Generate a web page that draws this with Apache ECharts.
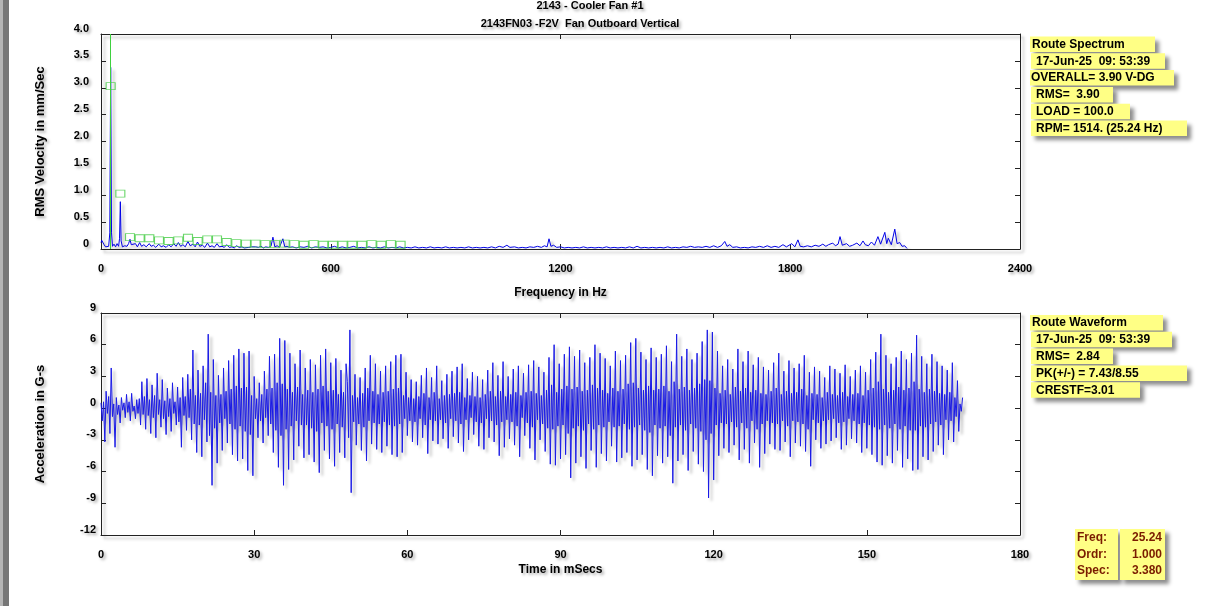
<!DOCTYPE html>
<html>
<head>
<meta charset="utf-8">
<title>2143 - Cooler Fan #1</title>
<script src="https://cdn.jsdelivr.net/npm/echarts/dist/echarts.min.js"></script>
<style>
  html, body { margin: 0; padding: 0; background: #fff; }
  #main { width: 1216px; height: 606px; }
</style>
</head>
<body>
<div id="main"></div>
<script>
// spectrum, [Hz, mm/s]
let specLow = [
  [0, 0.12], [2, 0.16], [5, 0.19], [8, 0.08], [12, 0.04], [16, 0.03], [20, 0.05], [23, 0.3],
  [25.24, 3.38], [27.5, 0.3], [30, 0.05], [34, 0.09], [38, 0.04], [42, 0.1], [46, 0.05], [48.5, 0.2],
  [50.5, 0.88], [52.5, 0.15], [56, 0.04], [62, 0.06], [68, 0.05], [72, 0.1], [75.7, 0.18], [79, 0.08],
  [84, 0.05], [90, 0.1], [95, 0.04], [101, 0.12], [106, 0.05], [112, 0.08], [118, 0.04], [126, 0.1],
  [131, 0.05], [137, 0.07], [143, 0.03], [151, 0.09], [157, 0.04], [163, 0.06], [170, 0.03], [177, 0.08],
  [183, 0.04], [190, 0.1], [196, 0.05], [202, 0.12], [208, 0.05], [214, 0.08], [220, 0.04], [227, 0.14],
  [233, 0.06], [240, 0.09], [246, 0.04], [252, 0.13], [258, 0.05], [265, 0.07], [271, 0.03], [278, 0.11],
  [284, 0.04], [290, 0.06], [296, 0.03], [303, 0.1], [309, 0.04], [316, 0.05], [322, 0.03], [328, 0.08],
  [335, 0.03], [342, 0.04], [348, 0.02], [354, 0.06], [361, 0.03], [368, 0.04], [374, 0.02], [379, 0.05],
  [386, 0.03], [393, 0.04], [398, 0.02], [404, 0.04], [411, 0.03], [418, 0.05], [424, 0.02], [430, 0.04],
  [437, 0.03], [444, 0.05], [449, 0.22], [454, 0.04], [460, 0.06], [466, 0.03], [470, 0.05], [475, 0.19],
  [480, 0.04], [486, 0.05], [492, 0.03], [500, 0.04], [510, 0.02], [520, 0.04], [530, 0.03], [540, 0.05],
  [550, 0.02], [560, 0.04], [570, 0.03], [580, 0.04], [590, 0.02], [600, 0.03], [610, 0.05], [620, 0.02],
  [630, 0.04], [640, 0.02], [650, 0.03], [660, 0.05], [670, 0.02], [680, 0.03], [690, 0.02], [700, 0.04],
  [710, 0.02], [720, 0.03], [730, 0.02], [740, 0.04], [750, 0.02], [760, 0.03], [770, 0.02], [780, 0.04],
  [790, 0.02], [800, 0.03],
];
let specHigh = [
  [810, 0.02], [820, 0.04], [830, 0.02], [840, 0.03], [850, 0.02], [860, 0.04], [870, 0.02], [880, 0.03],
  [890, 0.02], [900, 0.04], [910, 0.02], [920, 0.03], [930, 0.02], [940, 0.03], [950, 0.02], [960, 0.04],
  [970, 0.02], [980, 0.03], [990, 0.02], [1000, 0.03], [1010, 0.02], [1020, 0.04], [1030, 0.02], [1040, 0.05],
  [1050, 0.03], [1060, 0.07], [1068, 0.03], [1080, 0.04], [1090, 0.02], [1100, 0.03], [1110, 0.02], [1120, 0.04],
  [1130, 0.03], [1140, 0.05], [1150, 0.03], [1158, 0.06], [1165, 0.04], [1170, 0.19], [1175, 0.05], [1182, 0.07],
  [1190, 0.03], [1200, 0.04], [1210, 0.02], [1220, 0.03], [1230, 0.02], [1240, 0.03], [1250, 0.02], [1260, 0.04],
  [1270, 0.02], [1280, 0.03], [1290, 0.02], [1300, 0.03], [1310, 0.02], [1320, 0.04], [1330, 0.02], [1340, 0.03],
  [1350, 0.02], [1360, 0.03], [1370, 0.02], [1380, 0.04], [1390, 0.02], [1400, 0.05], [1410, 0.02], [1420, 0.03],
  [1430, 0.02], [1440, 0.03], [1450, 0.02], [1460, 0.03], [1470, 0.02], [1480, 0.04], [1490, 0.02], [1500, 0.03],
  [1510, 0.02], [1520, 0.04], [1530, 0.03], [1540, 0.05], [1550, 0.03], [1560, 0.04], [1570, 0.03], [1580, 0.05],
  [1590, 0.03], [1600, 0.06], [1610, 0.03], [1620, 0.06], [1629, 0.14], [1635, 0.05], [1642, 0.08], [1650, 0.03],
  [1660, 0.04], [1670, 0.02], [1680, 0.03], [1690, 0.02], [1700, 0.04], [1710, 0.03], [1720, 0.05], [1730, 0.03],
  [1740, 0.06], [1750, 0.03], [1760, 0.05], [1770, 0.03], [1781, 0.08], [1790, 0.04], [1804, 0.1], [1812, 0.04],
  [1820, 0.17], [1826, 0.05], [1835, 0.04], [1845, 0.06], [1855, 0.04], [1865, 0.07], [1875, 0.05], [1885, 0.09],
  [1893, 0.05], [1900, 0.08], [1911, 0.11], [1918, 0.06], [1925, 0.09], [1930, 0.23], [1936, 0.07], [1947, 0.1],
  [1955, 0.05], [1963, 0.07], [1974, 0.11], [1982, 0.06], [1990, 0.15], [1996, 0.08], [2004, 0.06], [2012, 0.13],
  [2020, 0.07], [2029, 0.23], [2036, 0.09], [2041, 0.12], [2047, 0.31], [2052, 0.1], [2056, 0.2], [2064, 0.08],
  [2073, 0.37], [2079, 0.1], [2086, 0.12], [2092, 0.05], [2099, 0.06], [2105, 0.01],
];

// order markers (1x .. 31x of 25.24 Hz)
let markerFreq = [
  25.2, 50.5, 75.7, 101.0, 126.2, 151.4, 176.7, 201.9, 227.2, 252.4, 277.6, 302.9, 328.1, 353.4, 378.6, 403.8,
  429.1, 454.3, 479.6, 504.8, 530.0, 555.3, 580.5, 605.8, 631.0, 656.2, 681.5, 706.7, 732.0, 757.2, 782.4,
];
let markerAmp = [
  3.03, 1.03, 0.22, 0.2, 0.2, 0.16, 0.15, 0.16, 0.21, 0.15, 0.18, 0.18, 0.13, 0.11, 0.1, 0.1,
  0.09, 0.09, 0.1, 0.09, 0.08, 0.09, 0.08, 0.08, 0.08, 0.08, 0.08, 0.09, 0.08, 0.09, 0.08,
];
let cursorFreq = 25.24;

// waveform, G-s, samples every 0.25 ms
// wavePeaks = the big swings, waveInner = the smaller samples between them
let waveStep = 0.25;
let wavePeaks = [
  0.5, -3.2, 1.6, -2.4, 3.8, -3.7, 1.0, -1.4, 1.0, -0.9, 1.3, -1.2, 1.4, -1.0, 0.8, -1.6, 2.5, -2.0, 2.8, -2.4,
  2.2, -2.8, 3.3, -1.8, 2.7, -2.5, 1.9, -2.2, 2.4, -1.6, 2.0, -3.7, 2.9, -2.1, 3.2, -3.0, 5.5, -4.2, 3.6, -4.6,
  4.0, -3.2, 7.0, -7.3, 4.6, -5.2, 3.1, -4.0, 3.8, -3.3, 4.5, -4.4, 5.0, -5.0, 5.6, -4.8, 5.2, -5.9, 5.4, -6.4,
  3.0, -2.8, 2.4, -3.3, 3.5, -2.6, 4.9, -4.2, 5.1, -5.6, 6.6, -7.3, 6.4, -5.8, 5.2, -4.9, 4.2, -3.6, 5.5, -4.7,
  3.8, -4.4, 4.6, -5.1, 4.1, -6.1, 5.0, -4.0, 5.6, -4.8, 4.3, -5.5, 4.7, -4.2, 3.6, -4.7, 4.2, 7.4, -8.0, 3.2,
  -3.5, 2.9, -4.0, 3.8, -5.0, 5.0, -3.4, 4.2, -3.9, 3.5, -4.2, 4.0, -3.6, 4.4, -4.4, 5.0, -4.6, 5.1, -4.2, 3.4,
  -2.6, 2.7, -3.2, 2.5, -3.5, 3.1, -2.8, 3.8, -4.3, 2.9, -3.1, 4.0, -3.4, 2.6, -2.9, 3.2, -3.8, 3.5, -2.7, 3.9,
  -3.3, 4.2, -4.1, 2.8, -3.0, 3.4, -2.5, 3.0, -3.6, 2.7, -3.9, 3.6, -2.8, 4.3, -3.2, 3.1, -4.5, 4.4, -3.7, 3.0,
  -2.9, 3.7, -3.5, 4.0, -4.6, 3.3, -2.6, 4.1, -3.8, 4.5, -4.9, 3.9, -3.0, 3.4, -4.1, 4.8, -5.3, 6.0, -5.4, 4.2,
  -4.8, 5.1, -4.4, 5.8, -6.6, 4.9, -5.2, 5.5, -4.6, 4.3, -5.7, 4.8, -4.0, 6.0, -5.6, 5.2, -4.3, 4.7, -5.0, 4.0,
  -3.6, 5.4, -5.1, 4.5, -4.7, 5.0, -4.2, 6.2, -5.5, 6.6, -4.9, 5.3, -4.4, 4.6, -5.8, 5.7, -6.4, 4.8, -4.5, 5.1,
  -5.2, 5.9, -4.6, 4.4, -7.1, 7.0, -5.0, 4.9, -4.4, 5.6, -5.9, 4.6, -4.1, 5.2, -5.3, 6.3, -6.0, 7.4, -8.5, 7.2,
  -6.8, 5.4, -4.5, 4.0, -3.8, 4.6, -4.2, 3.7, -3.5, 5.6, -4.9, 4.4, -3.9, 5.4, -5.2, 4.1, -3.3, 4.8, -5.6, 3.9,
  -4.3, 3.6, -3.4, 4.3, -3.9, 5.2, -4.0, 3.5, -3.2, 4.5, -4.6, 3.8, -3.3, 4.2, -3.6, 5.0, -4.1, 3.4, -5.5, 3.9,
  -3.0, 3.5, -3.8, 2.9, -3.4, 4.0, -3.1, 3.7, -2.8, 3.3, -3.9, 4.1, -3.5, 3.0, -2.9, 3.6, -3.3, 4.0, -4.2, 3.4,
  -3.8, 4.6, -4.4, 5.3, -5.1, 7.0, -5.4, 5.0, -4.5, 4.2, -5.2, 4.8, -4.0, 5.4, -5.6, 4.6, -4.8, 5.2, -5.9, 6.9,
  -5.8, 4.9, -4.6, 4.2, -4.9, 5.1, -4.1, 4.4, -3.5, 4.0, -4.4, 3.6, -3.0, 4.3, -3.2, 2.6, -2.2, 1.0,
];
let waveInner = [
  -1.2, 0.6, -0.5, 1.1, -0.8, 0.4, -0.6, 0.3, -0.2, 0.5, -0.4, 0.6, -0.3, 0.2, -0.5, 0.9, -0.6, 1.1, -0.7, 0.8,
  -0.9, 1.2, -0.6, 0.8, -1.0, 0.7, -0.8, 0.9, -0.5, 0.6, -1.3, 1.0, -0.7, 1.1, -0.9, 1.8, -1.5, 1.2, -1.6, 1.4,
  -1.1, 2.4, -2.6, 1.5, -1.9, 1.2, -1.4, 1.3, -1.0, 1.6, -1.5, 1.8, -2.0, 2.1, -1.7, 1.9, -2.2, 2.0, -2.5, 1.2,
  -1.0, 0.9, -1.2, 1.3, -0.9, 1.8, -1.5, 1.9, -2.1, 2.4, -2.6, 2.3, -2.0, 1.8, -1.7, 1.5, -1.2, 2.0, -1.6, 1.3,
  -1.6, 1.7, -1.9, 1.5, -2.2, 1.8, -1.4, 2.1, -1.7, 1.6, -2.0, 1.7, -1.5, 1.3, -1.8, 1.5, 2.5, -2.8, 1.2, -1.3,
  1.0, -1.5, 1.4, -1.8, 1.9, -1.2, 1.6, -1.4, 1.3, -1.5, 1.5, -1.3, 1.6, -1.6, 1.8, -1.7, 1.9, -1.5, 1.2, -1.0,
  1.0, -1.2, 0.9, -1.3, 1.1, -1.0, 1.4, -1.6, 1.0, -1.1, 1.5, -1.2, 0.9, -1.1, 1.2, -1.4, 1.3, -1.0, 1.4, -1.2,
  1.5, -1.5, 1.0, -1.1, 1.2, -0.9, 1.1, -1.3, 1.0, -1.4, 1.3, -1.0, 1.6, -1.2, 1.1, -1.6, 1.6, -1.3, 1.1, -1.1,
  1.3, -1.3, 1.5, -1.7, 1.2, -0.9, 1.5, -1.4, 1.6, -1.8, 1.4, -1.1, 1.2, -1.5, 1.7, -1.9, 2.2, -2.0, 1.5, -1.7,
  1.8, -1.6, 2.1, -2.4, 1.8, -1.9, 2.0, -1.7, 1.6, -2.1, 1.7, -1.5, 2.2, -2.0, 1.9, -1.6, 1.7, -1.8, 1.4, -1.3,
  1.9, -1.8, 1.6, -1.7, 1.8, -1.5, 2.3, -2.0, 2.4, -1.8, 1.9, -1.6, 1.7, -2.1, 2.1, -2.3, 1.7, -1.6, 1.8, -1.9,
  2.1, -1.7, 1.6, -2.6, 2.5, -1.8, 1.8, -1.6, 2.0, -2.1, 1.7, -1.5, 1.9, -1.9, 2.3, -2.2, 2.7, -3.0, 2.6, -2.4,
  1.9, -1.6, 1.4, -1.4, 1.7, -1.5, 1.3, -1.3, 2.0, -1.8, 1.6, -1.4, 1.9, -1.9, 1.5, -1.2, 1.7, -2.0, 1.4, -1.5,
  1.3, -1.2, 1.6, -1.4, 1.9, -1.5, 1.3, -1.2, 1.6, -1.7, 1.4, -1.2, 1.5, -1.3, 1.8, -1.5, 1.2, -2.0, 1.4, -1.1,
  1.3, -1.4, 1.0, -1.2, 1.5, -1.1, 1.3, -1.0, 1.2, -1.4, 1.5, -1.3, 1.1, -1.0, 1.3, -1.2, 1.4, -1.5, 1.2, -1.4,
  1.7, -1.6, 1.9, -1.8, 2.5, -2.0, 1.8, -1.6, 1.5, -1.9, 1.7, -1.5, 2.0, -2.0, 1.7, -1.7, 1.9, -2.1, 2.5, -2.1,
  1.8, -1.7, 1.5, -1.8, 1.8, -1.5, 1.6, -1.3, 1.4, -1.6, 1.3, -1.1, 1.5, -1.2, 1.0, -0.8, 0.4, -0.3,
];

// texts
let titleLines = ["2143 - Cooler Fan #1", "2143FN03 -F2V  Fan Outboard Vertical"];
let specInfo = ["Route Spectrum", "17-Jun-25  09: 53:39", "OVERALL= 3.90 V-DG", "RMS=  3.90", "LOAD = 100.0", "RPM= 1514. (25.24 Hz)"];
let waveInfo = ["Route Waveform", "17-Jun-25  09: 53:39", "RMS=  2.84", "PK(+/-) = 7.43/8.55", "CRESTF=3.01"];
let cursorNames = ["Freq:", "Ordr:", "Spec:"];
let cursorValues = ["25.24", "1.000", "3.380"];

// sample order inside each 1 ms: peak, inner, inner, peak
let waveSamples = [];
for (let j = 0; j * 2 < wavePeaks.length; j++) {
  waveSamples.push(wavePeaks[2 * j], waveInner[2 * j], waveInner[2 * j + 1]);
  if (2 * j + 1 < wavePeaks.length) waveSamples.push(wavePeaks[2 * j + 1]);
}

let myChart = document.getElementById("main");
let initChart = echarts.init(myChart, null, { renderer: "canvas" });

const FONT = '"Liberation Sans", Arial, sans-serif';
const shadowTxt = {
  textShadowColor: "rgba(0,0,0,0.35)",
  textShadowBlur: 3,
  textShadowOffsetX: 2,
  textShadowOffsetY: 2,
};
const lineShadow = {
  shadowColor: "rgba(0,0,0,0.3)",
  shadowBlur: 3,
  shadowOffsetX: 3,
  shadowOffsetY: 3,
};

let frameAxis = (extra) =>
  Object.assign(
    {
      axisLine: { show: true, onZero: false, lineStyle: Object.assign({ color: "#222", width: 1 }, lineShadow) },
      axisTick: { show: true, inside: true, length: 5, lineStyle: { color: "#222" } },
      splitLine: { show: false },
    },
    extra
  );

let axisLabelX = {
  color: "#000",
  fontFamily: FONT,
  fontWeight: "bold",
  fontSize: 11,
  margin: 14,
  formatter: (v) => String(v),
  ...shadowTxt,
};
let axisLabelY = (margin, fmt) => ({
  color: "#000",
  fontFamily: FONT,
  fontWeight: "bold",
  fontSize: 11,
  margin: margin,
  verticalAlign: "bottom",
  formatter: fmt,
  ...shadowTxt,
});
let nameStyle = {
  color: "#000",
  fontFamily: FONT,
  fontWeight: "bold",
  fontSize: 12,
  ...shadowTxt,
};

// frame on the left and the yellow labels
let graphics = [
  { type: "rect", shape: { x: 0, y: 0, width: 9, height: 606 }, style: { fill: "#777" }, silent: true },
  { type: "rect", shape: { x: 0, y: 0, width: 3, height: 606 }, style: { fill: "#b5b5b5" }, silent: true },
];
titleLines.forEach((t, i) => {
  graphics.push({
    type: "text",
    x: i === 0 ? 590 : 580,
    y: i === 0 ? 6 : 24,
    style: Object.assign(
      { text: t, font: "bold 11px " + FONT, fill: "#000", textAlign: "center", align: "center", textVerticalAlign: "middle", verticalAlign: "middle" },
      shadowTxt
    ),
  });
});

let boxStyle = {
  fill: "#ffff85",
  shadowColor: "rgba(0,0,0,0.45)",
  shadowBlur: 4,
  shadowOffsetX: 4,
  shadowOffsetY: 4,
};
let addInfo = (lines, top, boxes, textX) => {
  lines.forEach((t, i) => {
    let y = top + i * 16.8;
    graphics.push({
      type: "rect",
      shape: { x: boxes[i][0], y: y, width: boxes[i][1], height: 15.5 },
      style: boxStyle,
      silent: true,
    });
  });
  lines.forEach((t, i) => {
    let y = top + i * 16.8;
    graphics.push({
      type: "text",
      x: textX[i],
      y: y + 8,
      style: { text: t, font: "bold 12px " + FONT, fill: "#000", textVerticalAlign: "middle", verticalAlign: "middle" },
    });
  });
};
addInfo(
  specInfo,
  36.5,
  [[1030, 125], [1031, 134], [1030, 144], [1031, 82], [1031, 99], [1031, 156]],
  [1032, 1036, 1031, 1036, 1036, 1036]
);
addInfo(
  waveInfo,
  315,
  [[1030, 133], [1031, 141], [1031, 82], [1031, 156], [1031, 109]],
  [1032, 1036, 1036, 1036, 1036]
);

graphics.push({ type: "rect", shape: { x: 1075, y: 529, width: 43, height: 51 }, style: boxStyle, silent: true });
graphics.push({ type: "rect", shape: { x: 1120, y: 529, width: 45, height: 51 }, style: boxStyle, silent: true });
cursorNames.forEach((t, i) => {
  graphics.push({
    type: "text",
    x: 1077,
    y: 538 + i * 16.5,
    style: { text: t, font: "bold 12px " + FONT, fill: "#7a1c00", textVerticalAlign: "middle", verticalAlign: "middle" },
  });
  graphics.push({
    type: "text",
    x: 1162,
    y: 538 + i * 16.5,
    style: {
      text: cursorValues[i],
      font: "bold 12px " + FONT,
      fill: "#7a1c00",
      textAlign: "right",
      align: "right",
      textVerticalAlign: "middle",
      verticalAlign: "middle",
    },
  });
});

let option = {
  backgroundColor: "#fff",
  animation: false,
  grid: [
    { left: 101, top: 34, right: 196, height: 215 },
    { left: 101, top: 313, right: 196, height: 222 },
  ],
  xAxis: [
    frameAxis({
      type: "value", gridIndex: 0, min: 0, max: 2400, interval: 600,
      axisLabel: axisLabelX,
      name: "Frequency in Hz", nameLocation: "middle", nameGap: 38, nameTextStyle: nameStyle,
    }),
    frameAxis({ type: "value", gridIndex: 0, position: "top", min: 0, max: 2400, interval: 600, axisLabel: { show: false } }),
    frameAxis({
      type: "value", gridIndex: 1, min: 0, max: 180, interval: 30,
      axisLabel: axisLabelX,
      name: "Time in mSecs", nameLocation: "middle", nameGap: 29, nameTextStyle: nameStyle,
    }),
    frameAxis({ type: "value", gridIndex: 1, position: "top", min: 0, max: 180, interval: 30, axisLabel: { show: false } }),
  ],
  yAxis: [
    frameAxis({
      type: "value", gridIndex: 0, min: 0, max: 4, interval: 0.5,
      axisLabel: axisLabelY(12, (v) => (v === 0 ? "0" : v.toFixed(1))),
      name: "RMS Velocity in mm/Sec", nameLocation: "middle", nameGap: 54,
      nameTextStyle: Object.assign({}, nameStyle, { fontSize: 13 }),
    }),
    frameAxis({ type: "value", gridIndex: 0, position: "right", min: 0, max: 4, interval: 0.5, axisLabel: { show: false } }),
    frameAxis({
      type: "value", gridIndex: 1, min: -12, max: 9, interval: 3,
      axisLabel: axisLabelY(5, (v) => String(v)),
      name: "Acceleration in G-s", nameLocation: "middle", nameGap: 54,
      nameTextStyle: Object.assign({}, nameStyle, { fontSize: 13 }),
    }),
    frameAxis({ type: "value", gridIndex: 1, position: "right", min: -12, max: 9, interval: 3, axisLabel: { show: false } }),
  ],
  series: [
    {
      name: "spectrum",
      type: "line",
      xAxisIndex: 0,
      yAxisIndex: 0,
      data: specLow.concat(specHigh),
      showSymbol: false,
      symbol: "none",
      lineStyle: Object.assign({ color: "#0000e6", width: 1 }, lineShadow),
      z: 3,
    },
    {
      name: "orders",
      type: "scatter",
      xAxisIndex: 0,
      yAxisIndex: 0,
      data: markerFreq.map((f, i) => [f, markerAmp[i]]),
      symbol: "rect",
      symbolSize: [9, 7],
      itemStyle: { color: "rgba(255,255,255,0)", borderColor: "#45cc45", borderWidth: 1 },
      markLine: {
        silent: true,
        symbol: "none",
        label: { show: false },
        lineStyle: { color: "#3fd03f", width: 1, type: "solid" },
        data: [{ xAxis: cursorFreq }],
      },
      z: 4,
    },
    {
      name: "waveform",
      type: "line",
      xAxisIndex: 2,
      yAxisIndex: 2,
      data: waveSamples.map((v, i) => [i * waveStep, v]),
      showSymbol: false,
      symbol: "none",
      sampling: false,
      lineStyle: Object.assign({ color: "#1a1ae6", width: 1 }, lineShadow),
    },
  ],
  graphic: graphics,
};

initChart.setOption(option);
</script>
</body>
</html>
